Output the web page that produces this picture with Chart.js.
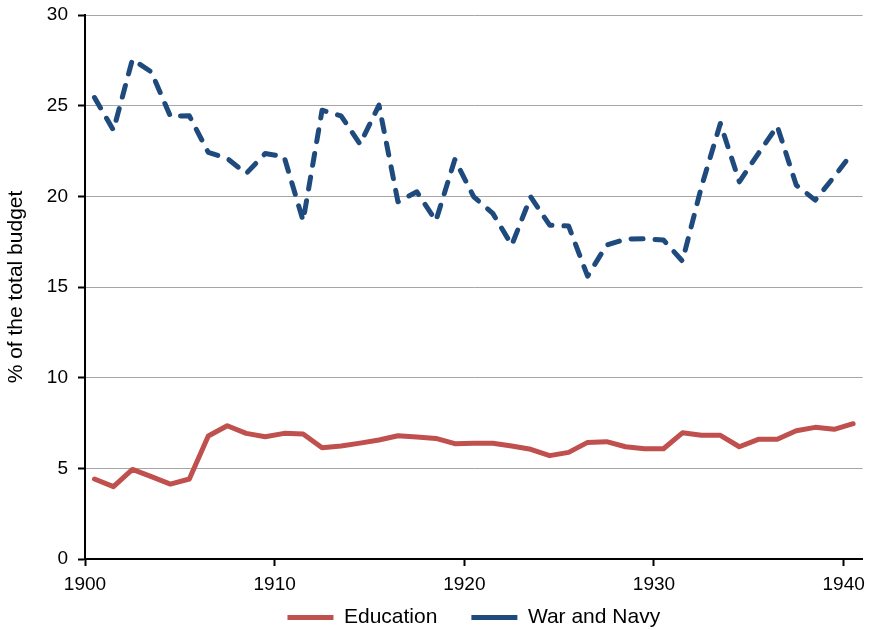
<!DOCTYPE html>
<html lang="en">
<head>
<meta charset="UTF-8">
<title>Education vs War and Navy</title>
<script src="https://cdn.jsdelivr.net/npm/chart.js@4"></script>
<style>
  html, body { margin: 0; padding: 0; background: #fff; }
  #wrap { width: 872px; height: 630px; }
</style>
</head>
<body>
<div id="wrap"><canvas id="myChart"></canvas></div>
<script>
// years (one category per year, points sit in the middle of each year)
var anos = [1900, 1901, 1902, 1903, 1904, 1905, 1906, 1907, 1908, 1909,
            1910, 1911, 1912, 1913, 1914, 1915, 1916, 1917, 1918, 1919,
            1920, 1921, 1922, 1923, 1924, 1925, 1926, 1927, 1928, 1929,
            1930, 1931, 1932, 1933, 1934, 1935, 1936, 1937, 1938, 1939,
            1940];

var educacao = [4.41, 3.99, 4.94, 4.54, 4.13, 4.41, 6.78, 7.35, 6.93, 6.74,
                6.93, 6.89, 6.14, 6.23, 6.39, 6.56, 6.80, 6.73, 6.65, 6.36,
                6.38, 6.38, 6.23, 6.05, 5.70, 5.88, 6.43, 6.47, 6.19, 6.08,
                6.08, 6.96, 6.82, 6.82, 6.19, 6.60, 6.60, 7.07, 7.26, 7.15,
                7.46];

var guerra = [25.45, 23.65, 27.55, 26.86, 24.42, 24.44, 22.42, 22.09, 21.26, 22.36,
              22.18, 18.65, 24.75, 24.44, 22.88, 25.03, 19.70, 20.25, 18.65, 22.03,
              19.97, 19.06, 17.31, 19.97, 18.41, 18.36, 15.60, 17.31, 17.64, 17.66,
              17.59, 16.43, 20.52, 24.02, 20.80, 22.36, 23.87, 20.62, 19.79, 21.08,
              22.45];

var ticksX = [1900, 1910, 1920, 1930, 1940];
var ticksY = [0, 5, 10, 15, 20, 25, 30];

function pontos(serie) {
    var out = [];
    for (var i = 0; i < anos.length; i++) {
        out.push({ x: anos[i] + 0.5, y: serie[i] });
    }
    return out;
}

Chart.defaults.font.family = "'Liberation Sans', Arial, sans-serif";
Chart.defaults.color = "#000000";

// legenda: sobe o bloco para ficar logo abaixo dos rótulos do eixo x
const ajustaLegenda = {
    id: 'ajustaLegenda',
    afterLayout: function (chart) {
        const lg = chart.legend;
        const h = lg.bottom - lg.top;
        lg.top = 573;
        lg.bottom = 573 + h;
    }
};

const data = {
    datasets: [{
        label: 'Education',
        data: pontos(educacao),
        borderColor: '#C0504D',
        backgroundColor: '#C0504D',
        borderWidth: 5,
        borderCapStyle: 'round',
        borderJoinStyle: 'round',
        pointRadius: 0,
        tension: 0
    }, {
        label: 'War and Navy',
        data: pontos(guerra),
        borderColor: '#1F4A7D',
        backgroundColor: '#1F4A7D',
        borderWidth: 5,
        borderDash: [12, 12],
        borderCapStyle: 'round',
        borderJoinStyle: 'round',
        pointRadius: 0,
        tension: 0
    }]
};

const config = {
    type: 'line',
    data: data,
    plugins: [ajustaLegenda],
    options: {
        responsive: true,
        maintainAspectRatio: false,
        animation: false,
        layout: { padding: { top: 15, right: 9, bottom: -30, left: 0 } },
        plugins: {
            tooltip: { enabled: false },
            legend: {
                position: 'bottom',
                fullSize: false,
                labels: {
                    usePointStyle: true,
                    pointStyle: 'line',
                    pointStyleWidth: 46,
                    padding: 34,
                    color: '#000',
                    font: { size: 21 }
                }
            }
        },
        scales: {
            x: {
                type: 'linear',
                min: 1900,
                max: 1941,
                afterFit: function (s) { s.height = 36; },
                afterBuildTicks: function (s) {
                    s.ticks = ticksX.map(function (v) { return { value: v }; });
                },
                ticks: {
                    padding: 7,
                    maxRotation: 0,
                    autoSkip: false,
                    font: { size: 19 },
                    callback: function (v) { return String(v); }
                },
                grid: {
                    drawOnChartArea: false,
                    drawTicks: true,
                    tickLength: 7,
                    tickWidth: 2,
                    tickColor: '#000'
                },
                border: { display: true, color: '#000', width: 2 }
            },
            y: {
                min: 0,
                max: 30,
                afterFit: function (s) { s.width = 85; s.paddingTop = 0; },
                afterBuildTicks: function (s) {
                    s.ticks = ticksY.map(function (v) { return { value: v }; });
                },
                ticks: {
                    padding: 10,
                    font: { size: 19 }
                },
                grid: {
                    color: '#A6A6A6',
                    lineWidth: 1,
                    tickLength: 7,
                    tickWidth: 2,
                    tickColor: '#000'
                },
                border: { display: true, color: '#000', width: 2 },
                title: {
                    display: true,
                    text: '% of the total budget',
                    font: { size: 21 },
                    padding: { top: 4, bottom: 0 }
                }
            }
        }
    }
};

const myChart = new Chart(document.getElementById('myChart'), config);
</script>
</body>
</html>
